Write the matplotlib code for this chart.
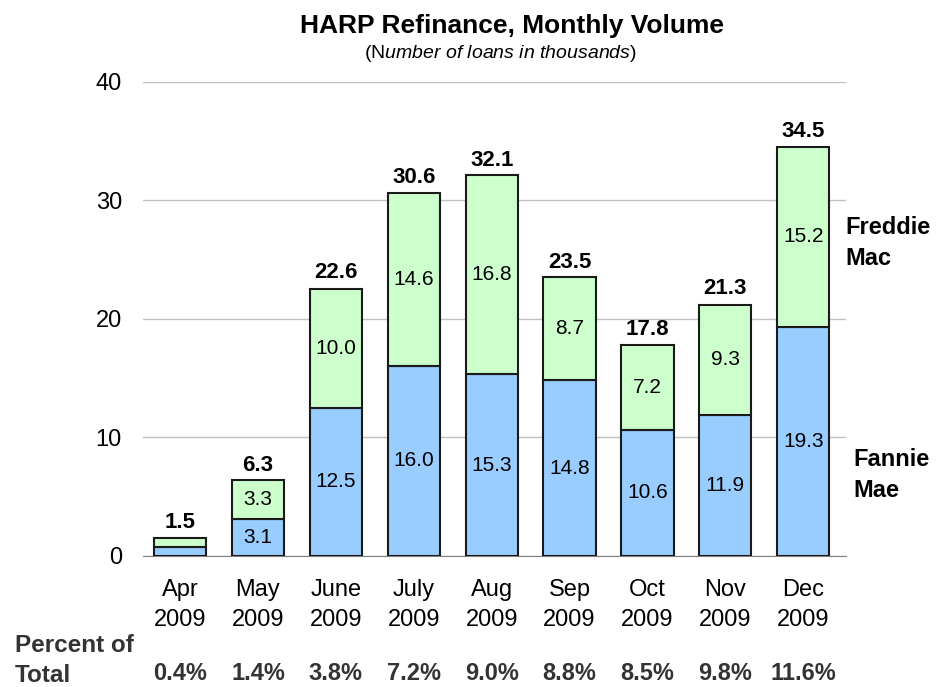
import matplotlib
matplotlib.use("Agg")
import matplotlib.pyplot as plt
from matplotlib.transforms import blended_transform_factory
import numpy as np

plt.rcParams['font.family'] = ['Liberation Sans', 'DejaVu Sans']
plt.rcParams['mathtext.fontset'] = 'custom'
plt.rcParams['mathtext.rm'] = 'Liberation Sans'
plt.rcParams['mathtext.it'] = 'Liberation Sans:italic'

months = ["Apr\n2009", "May\n2009", "June\n2009", "July\n2009", "Aug\n2009",
          "Sep\n2009", "Oct\n2009", "Nov\n2009", "Dec\n2009"]
fannie = [0.7, 3.1, 12.5, 16.0, 15.3, 14.8, 10.6, 11.9, 19.3]
freddie = [0.8, 3.3, 10.0, 14.6, 16.8, 8.7, 7.2, 9.3, 15.2]
totals = [1.5, 6.3, 22.6, 30.6, 32.1, 23.5, 17.8, 21.3, 34.5]
percents = ["0.4%", "1.4%", "3.8%", "7.2%", "9.0%", "8.8%", "8.5%", "9.8%", "11.6%"]

fig = plt.figure(figsize=(9.39, 6.87), dpi=100)
ax = fig.add_axes([0.152, 0.191, 0.749, 0.690])

x = np.arange(len(months))
w = 0.67
ax.bar(x, fannie, w, color="#99CCFF", edgecolor="#1a1a1a", linewidth=1.5, zorder=3)
ax.bar(x, freddie, w, bottom=fannie, color="#CCFFCC", edgecolor="#1a1a1a", linewidth=1.5, zorder=3)

for i in range(len(x)):
    if fannie[i] >= 2:
        ax.text(x[i], fannie[i] / 2, f"{fannie[i]:.1f}", ha="center", va="center", fontsize=15, zorder=4)
    if freddie[i] >= 2:
        ax.text(x[i], fannie[i] + freddie[i] / 2, f"{freddie[i]:.1f}", ha="center", va="center", fontsize=15, zorder=4)
    ax.text(x[i], totals[i] + 0.4, f"{totals[i]:.1f}", ha="center", va="bottom", fontsize=16, fontweight="bold")

ax.set_xlim(-0.48, 8.55)
ax.set_ylim(0, 40)
ax.set_yticks([0, 10, 20, 30, 40])
ax.yaxis.grid(True, color="#c0c0c0", linewidth=1)
ax.set_axisbelow(True)
for s in ["left", "right", "top"]:
    ax.spines[s].set_visible(False)
ax.spines["bottom"].set_color("#808080")
ax.tick_params(axis="y", length=0, labelsize=17, pad=15)
ax.tick_params(axis="x", length=0, labelsize=17, pad=17)
ax.set_xticks(x)
ax.set_xticklabels(months, linespacing=1.42)

trans = blended_transform_factory(ax.transData, fig.transFigure)
for i in range(len(x)):
    ax.text(x[i], 1 - 674 / 687, percents[i], transform=trans, ha="center", va="center",
            fontsize=17, fontweight="bold", color="#333333", clip_on=False)

fig.text(15 / 939, 1 - 646 / 687, "Percent of", fontsize=17.5, fontweight="bold", color="#333333", va="center")
fig.text(15 / 939, 1 - 675 / 687, "Total", fontsize=17.5, fontweight="bold", color="#333333", va="center")

fig.text(845 / 939, 1 - 243 / 687, "Freddie\nMac", fontsize=17, fontweight="bold", va="center", linespacing=1.4)
fig.text(853 / 939, 1 - 475 / 687, "Fannie\nMae", fontsize=17, fontweight="bold", va="center", linespacing=1.4)

fig.text(512 / 939, 1 - 26 / 687, "HARP Refinance, Monthly Volume", ha="center", va="center",
         fontsize=19, fontweight="bold")
fig.text(500 / 939, 1 - 54 / 687, "(N$\\it{umber\\ of\\ loans\\ in\\ thousands}$)", ha="center", va="center",
         fontsize=14)

fig.savefig("out.png", dpi=100)
